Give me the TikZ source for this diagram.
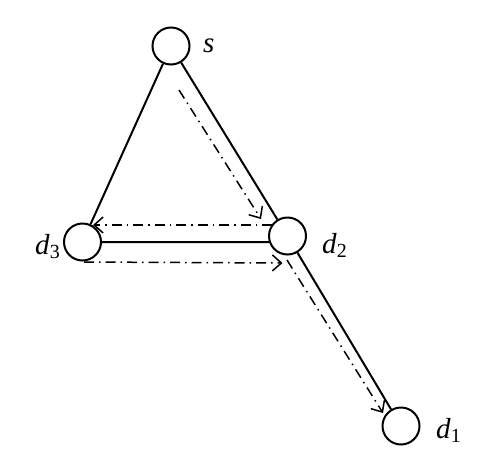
\documentclass[tikz,border=0pt]{standalone}
\usepackage{fontspec}
\setmainfont{Liberation Serif}
\usetikzlibrary{arrows.meta,calc}
\tikzset{
  vtx/.style={circle,draw,line width=2pt,minimum size=37pt,inner sep=0pt},
  link/.style={line width=2pt},
  flow/.style={line width=1.5pt,dash pattern=on 10pt off 5pt on 1.5pt off 5pt,
    -{Straight Barb[length=9pt,width=16pt,line width=1.5pt]}},
  lbl/.style={anchor=base west,inner sep=0pt,font=\fontsize{29}{30}\selectfont}
}
\newcommand{\sublbl}[2]{\textit{#1}\raisebox{-4pt}{\fontsize{20}{20}\selectfont #2}}
\begin{document}
\begin{tikzpicture}[x=1pt,y=-1pt]
\useasboundingbox (0,0) rectangle (486,469);
\node[vtx] (s) at (171,46) {};
\node[vtx] (d3) at (82.5,242) {};
\node[vtx] (d2) at (287.5,236) {};
\node[vtx] (d1) at (401,426) {};
\node[lbl] (ls) at (203,52) {\textit{s}};
\node[lbl] (l2) at (322,253) {\sublbl{d}{2}};
\node[lbl] (l3) at (35,254) {\sublbl{d}{3}};
\node[lbl] (l1) at (436,438) {\sublbl{d}{1}};
\draw[link] (s) -- (d3);
\draw[link] (s) -- (d2);
\draw[link] (d3.east) -- (d2.198);
\draw[link] (d2) -- (d1);
\coordinate (a1s) at ($(s)+(8,44)$);
\coordinate (a1e) at ($(d2)+(-26.5,-17)$);
\coordinate (a2s) at ($(d2)+(-15.5,-11)$);
\coordinate (a2e) at ($(d3)+(10.5,-17)$);
\coordinate (a3s) at ($(d3)+(1.5,20)$);
\coordinate (a3e) at ($(d2)+(-5,27)$);
\coordinate (a4s) at ($(d2)+(-0.5,24)$);
\coordinate (a4e) at ($(d1)+(-18,-13)$);
\draw[flow] (a1s) -- (a1e);
\draw[flow] (a2s) -- (a2e);
\draw[flow] (a3s) -- (a3e);
\draw[flow] (a4s) -- (a4e);
\end{tikzpicture}
\end{document}
